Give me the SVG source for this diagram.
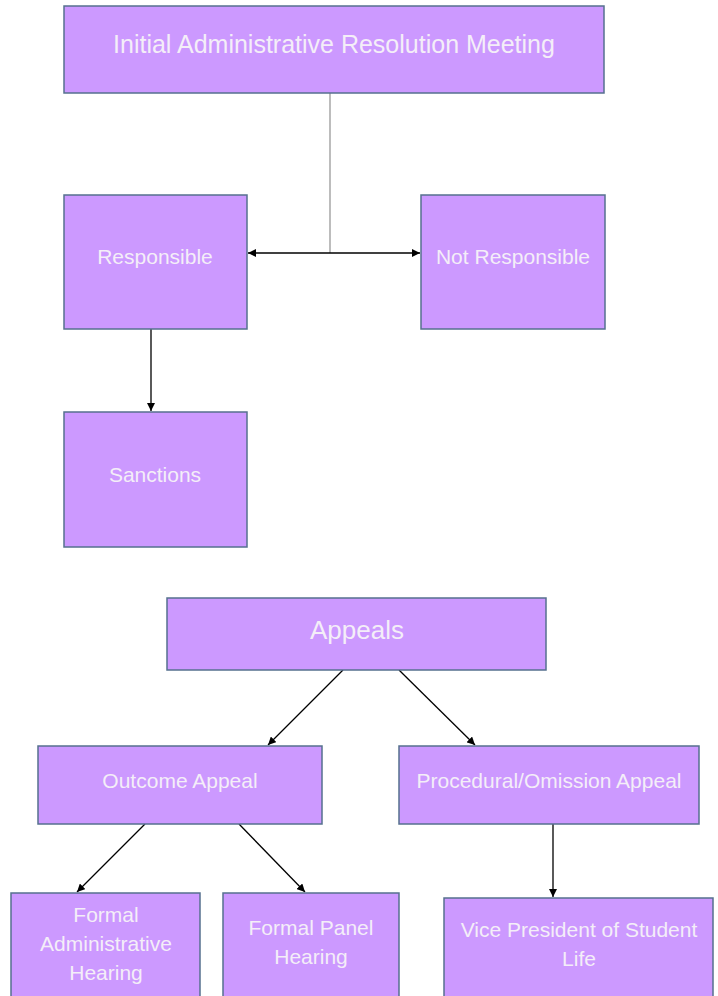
<svg xmlns="http://www.w3.org/2000/svg" width="718" height="996" viewBox="0 0 718 996">
<defs>
<marker id="ah" viewBox="0 0 10 10" refX="10" refY="5" markerWidth="8" markerHeight="8" orient="auto-start-reverse" markerUnits="userSpaceOnUse">
<path d="M0,0 L10,5 L0,10 z" fill="#000"/>
</marker>
<style>
.box{fill:#CC99FF;stroke:#56708F;stroke-width:1.5}
.t{font-family:"Liberation Sans",Arial,sans-serif;fill:#F4EEF8;text-anchor:middle;dominant-baseline:central}
.c{stroke:#000;stroke-width:1.3;fill:none}
</style>
</defs>
<rect width="718" height="996" fill="#fff"/>
<g id="connectors">
<line x1="330" y1="93" x2="330" y2="253" stroke="#999" stroke-width="1.3"/>
<line class="c" x1="248" y1="253" x2="420" y2="253" marker-start="url(#ah)" marker-end="url(#ah)"/>
<line class="c" x1="151" y1="329" x2="151" y2="411" marker-end="url(#ah)"/>
<line class="c" x1="343" y1="670" x2="268" y2="745" marker-end="url(#ah)"/>
<line class="c" x1="399" y1="670" x2="475" y2="745" marker-end="url(#ah)"/>
<line class="c" x1="145" y1="824" x2="77" y2="892" marker-end="url(#ah)"/>
<line class="c" x1="239" y1="824" x2="305" y2="892" marker-end="url(#ah)"/>
<line class="c" x1="553" y1="824" x2="553" y2="897" marker-end="url(#ah)"/>
</g>
<g id="initial"><rect class="box" x="64" y="6" width="540" height="87"/><text class="t" x="334" y="44" font-size="25">Initial Administrative Resolution Meeting</text></g>
<g id="responsible"><rect class="box" x="64" y="195" width="183" height="134"/><text class="t" x="155" y="256" font-size="21">Responsible</text></g>
<g id="not-responsible"><rect class="box" x="421" y="195" width="184" height="134"/><text class="t" x="513" y="256" font-size="21">Not Responsible</text></g>
<g id="sanctions"><rect class="box" x="64" y="412" width="183" height="135"/><text class="t" x="155" y="474" font-size="21">Sanctions</text></g>
<g id="appeals"><rect class="box" x="167" y="598" width="379" height="72"/><text class="t" x="357" y="630" font-size="26">Appeals</text></g>
<g id="outcome"><rect class="box" x="38" y="746" width="284" height="78"/><text class="t" x="180" y="780" font-size="21">Outcome Appeal</text></g>
<g id="procedural"><rect class="box" x="399" y="746" width="300" height="78"/><text class="t" x="549" y="780" font-size="21">Procedural/Omission Appeal</text></g>
<g id="formal-admin"><rect class="box" x="11" y="893" width="189" height="110"/><text class="t" x="106" y="914" font-size="21">Formal</text><text class="t" x="106" y="943" font-size="21">Administrative</text><text class="t" x="106" y="972" font-size="21">Hearing</text></g>
<g id="formal-panel"><rect class="box" x="223" y="893" width="176" height="110"/><text class="t" x="311" y="927" font-size="21">Formal Panel</text><text class="t" x="311" y="956" font-size="21">Hearing</text></g>
<g id="vp"><rect class="box" x="444" y="898" width="269" height="105"/><text class="t" x="579" y="929" font-size="21">Vice President of Student</text><text class="t" x="579" y="958" font-size="21">Life</text></g>
</svg>
